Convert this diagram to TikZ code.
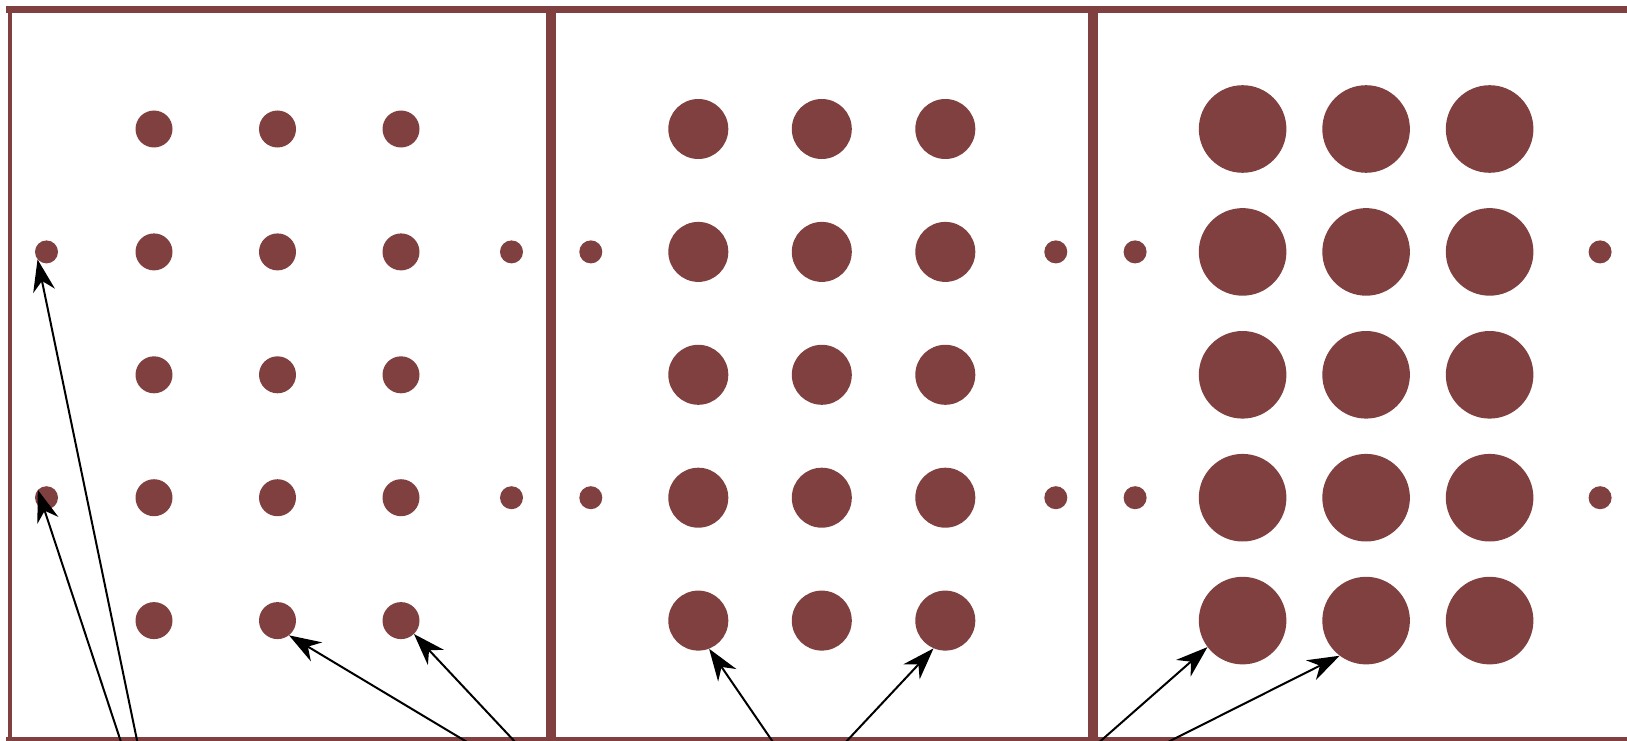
\documentclass[tikz,border=0pt]{standalone}
\usetikzlibrary{arrows.meta}
\definecolor{dotred}{RGB}{128,64,64}

\begin{document}
\begin{tikzpicture}[x=1pt, y=-1pt, >={Stealth[length=32pt,width=22pt,inset=10pt]},
  frame/.style={draw=dotred, line cap=butt},
  dot/.style={circle, fill=dotred, inner sep=0pt, minimum size=#1},
  tiny/.style={dot=23pt},
  pointer/.style={->, line width=2pt, black}]
\useasboundingbox (0,0) rectangle (1627,741);
\clip (0,0) rectangle (1627,741);
% panel frames
\draw[frame, line width=4pt] (10,6) -- (10,745);
\draw[frame, line width=6.5pt] (6,9.4) -- (1635,9.4);
\draw[frame, line width=5pt] (6,739.5) -- (1635,739.5);
\draw[frame, line width=10pt] (550.8,6) -- (550.8,745);
\draw[frame, line width=10pt] (1093.3,6) -- (1093.3,745);
% dot grids, one per panel
\foreach \p/\sz in {1/37,2/60,3/87.6} {
  \pgfmathsetmacro\xo{154+(\p-1)*544.3}
  \foreach \c in {1,2,3}
    \foreach \r in {1,...,5}
      \node[dot=\sz pt] (d\p-\c-\r) at ({\xo+(\c-1)*123.5}, {129+(\r-1)*122.9}) {};
  \foreach \r in {2,4} {
    \node[tiny] (s\p-l-\r) at ({\xo-107.5}, {129+(\r-1)*122.9}) {};
    \node[tiny] (s\p-r-\r) at ({\xo+357.5}, {129+(\r-1)*122.9}) {};
  }
}
% pointers from below
\coordinate (a1) at (138,745);
\coordinate (a2) at (122,745);
\coordinate (a3) at (472,745);
\coordinate (a4) at (518,745);
\coordinate (a5) at (775,745);
\coordinate (a6) at (843,745);
\coordinate (a7) at (1096,745);
\coordinate (a8) at (1162,745);
\draw[pointer] (a1) -- (s1-l-2.220);
\draw[pointer] (a2) -- (s1-l-4.138);
\draw[pointer] (a3) -- (d1-2-5.308);
\draw[pointer] (a4) -- (d1-3-5.314);
\draw[pointer] (a5) -- (d2-1-5.291);
\draw[pointer] (a6) -- (d2-3-5.247);
\draw[pointer] (a7) -- (d3-1-5.217);
\draw[pointer] (a8) -- (d3-2-5.233);
\end{tikzpicture}
\end{document}
